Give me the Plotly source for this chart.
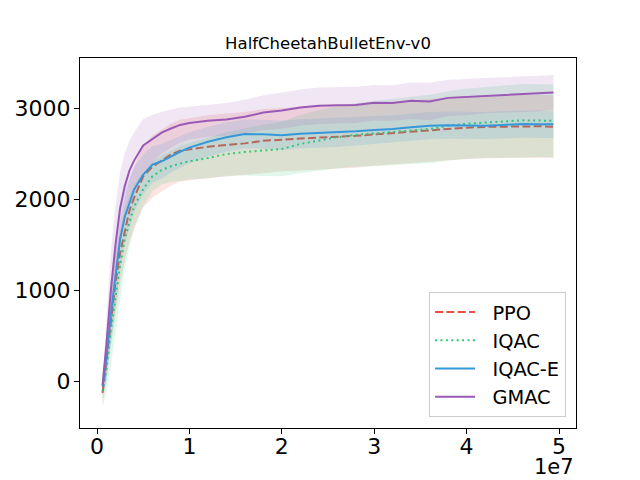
import plotly.graph_objects as go

# environment steps
steps = [6e5, 1e6, 1.5e6, 2e6, 2.5e6, 3e6, 3.5e6, 4e6, 5e6, 6e6, 7e6, 8e6, 9e6, 1e7,
         1.2e7, 1.4e7, 1.6e7, 1.8e7, 2e7, 2.2e7, 2.4e7, 2.6e7, 2.8e7, 3e7, 3.2e7, 3.4e7,
         3.6e7, 3.8e7, 4e7, 4.2e7, 4.4e7, 4.6e7, 4.8e7, 4.94e7]

ppo_mean = [-130, 230, 700, 1080, 1410, 1660, 1870, 2010, 2250, 2355, 2420, 2490, 2532, 2548,
            2575, 2595, 2612, 2640, 2655, 2665, 2675, 2682, 2695, 2710, 2725, 2740,
            2755, 2772, 2785, 2793, 2798, 2802, 2800, 2795]
ppo_std = [120, 220, 300, 330, 340, 340, 340, 340, 340, 340, 340, 340, 340, 340,
           345, 345, 345, 350, 350, 350, 350, 350, 350, 345, 345, 345,
           345, 345, 345, 345, 345, 345, 345, 345]

iqac_mean = [-110, 120, 560, 940, 1270, 1560, 1750, 1915, 2110, 2250, 2320, 2360, 2390, 2415,
             2450, 2495, 2518, 2538, 2550, 2605, 2645, 2680, 2705, 2720, 2738, 2755,
             2770, 2805, 2828, 2840, 2850, 2865, 2862, 2860]
iqac_std = [170, 260, 380, 400, 380, 330, 280, 240, 190, 160, 160, 170, 190, 200,
            220, 240, 260, 280, 300, 320, 330, 340, 350, 360, 365, 370,
            375, 380, 385, 390, 395, 400, 400, 400]

iqace_mean = [-60, 240, 740, 1146, 1560, 1800, 1960, 2100, 2270, 2380, 2415, 2470, 2520, 2565,
              2630, 2680, 2715, 2712, 2700, 2718, 2725, 2733, 2745, 2760, 2770, 2790,
              2806, 2812, 2812, 2806, 2815, 2824, 2822, 2821]
iqace_std = [100, 260, 350, 370, 340, 300, 270, 250, 220, 200, 190, 180, 175, 170,
             165, 160, 160, 160, 160, 160, 160, 160, 155, 155, 150, 150,
             150, 150, 150, 150, 150, 150, 150, 150]

gmac_mean = [-44, 380, 1000, 1500, 1900, 2140, 2310, 2420, 2590, 2665, 2730, 2775, 2815, 2835,
             2860, 2875, 2905, 2950, 2972, 3005, 3025, 3030, 3035, 3058, 3055, 3080,
             3072, 3112, 3122, 3138, 3144, 3150, 3160, 3172]
gmac_std = [80, 300, 420, 430, 400, 360, 330, 310, 290, 260, 230, 210, 190, 180,
            175, 180, 185, 190, 200, 200, 200, 200, 200, 195, 195, 200,
            205, 200, 200, 195, 195, 195, 195, 190]

series = [
    ("PPO", ppo_mean, ppo_std, (231, 76, 60), "8px,3.3px"),
    ("IQAC", iqac_mean, iqac_std, (46, 204, 113), "2px,3.4px"),
    ("IQAC-E", iqace_mean, iqace_std, (52, 152, 219), "solid"),
    ("GMAC", gmac_mean, gmac_std, (155, 89, 182), "solid"),
]

fig = go.Figure()

for name, mean, std, rgb, dash in series:
    upper = [m + s for m, s in zip(mean, std)]
    lower = [m - s for m, s in zip(mean, std)]
    band = "rgba(%d,%d,%d,0.15)" % rgb
    fig.add_trace(go.Scatter(x=steps, y=upper, mode="lines", line=dict(width=0),
                             showlegend=False, hoverinfo="skip"))
    fig.add_trace(go.Scatter(x=steps, y=lower, mode="lines", line=dict(width=0),
                             fill="tonexty", fillcolor=band,
                             showlegend=False, hoverinfo="skip"))
    # nbsp prefix widens the gap between legend line and label like matplotlib
    fig.add_trace(go.Scatter(x=steps, y=mean, mode="lines", name="\u00a0\u00a0" + name,
                             line=dict(color="rgb(%d,%d,%d)" % rgb, width=2, dash=dash)))

span = steps[-1] - steps[0]
axis_style = dict(showline=True, linecolor="black", linewidth=1.1, mirror=True,
                  ticks="outside", ticklen=5, tickwidth=1.1, tickcolor="black",
                  showgrid=False, zeroline=False, automargin=False,
                  tickfont=dict(size=22, color="black"))

fig.update_xaxes(range=[steps[0] - 0.05 * span, steps[-1] + 0.05 * span],
                 tickvals=[0, 1e7, 2e7, 3e7, 4e7, 5e7],
                 ticktext=["0", "1", "2", "3", "4", "5"],
                 ticklabelstandoff=-6, **axis_style)
fig.update_yaxes(range=[-515, 3550], tickvals=[0, 1000, 2000, 3000],
                 ticklabelstandoff=-1, **axis_style)

fig.add_annotation(text="1e7", xref="paper", yref="paper", x=1.0, y=-0.106,
                   xanchor="right", yanchor="middle", showarrow=False,
                   font=dict(size=21, color="black"))

# the page body adds an 8px offset, so the figure is shifted inside the window
fig.update_layout(
    width=624, height=472,
    margin=dict(l=72, r=56, t=50, b=52),
    paper_bgcolor="white", plot_bgcolor="white",
    font=dict(family="DejaVu Sans", color="black"),
    title=dict(text="HalfCheetahBulletEnv-v0", x=0.5, xref="paper",
               y=0.9135, yref="container", yanchor="bottom",
               font=dict(size=16.5, color="black")),
    legend=dict(x=0.98, y=0.03, xanchor="right", yanchor="bottom", traceorder="normal",
                bgcolor="rgba(255,255,255,0.8)", bordercolor="#cccccc", borderwidth=1,
                font=dict(size=19.4), itemwidth=40),
)

fig.write_html("out.html")
